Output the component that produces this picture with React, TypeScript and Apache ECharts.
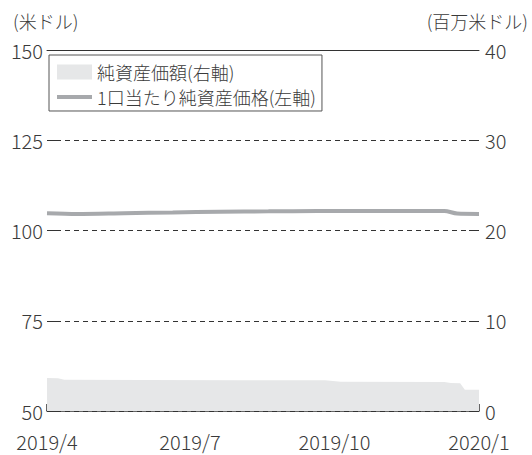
import React, { useEffect, useRef } from "react";
import * as echarts from "echarts";

const tickDates = ["2019-04-01", "2019-07-01", "2019-10-01", "2020-01-01"];
const tickLabels = ["2019/4", "2019/7", "2019/10", "2020/1"];

const navDates = [
  "2019-04-01", "2019-04-08", "2019-04-12", "2019-06-01", "2019-08-01",
  "2019-09-25", "2019-10-05", "2019-12-10", "2019-12-14", "2019-12-20",
  "2019-12-23", "2020-01-01",
];
const navValues = [3.65, 3.62, 3.45, 3.44, 3.42, 3.4, 3.25, 3.22, 3.1, 3.08, 2.35, 2.35];

const priceDates = [
  "2019-04-01", "2019-04-20", "2019-05-20", "2019-06-20", "2019-07-20",
  "2019-08-20", "2019-09-20", "2019-10-20", "2019-11-20", "2019-12-10",
  "2019-12-18", "2020-01-01",
];
const priceValues = [104.8, 104.6, 104.8, 105.0, 105.2, 105.3, 105.4, 105.4, 105.4, 105.4, 104.7, 104.6];

const NAV_NAME = "純資産価額(右軸)";
const PRICE_NAME = "1口当たり純資産価格(左軸)";
const LEFT_UNIT = "(米ドル)";
const RIGHT_UNIT = "(百万米ドル)";

const FONT = "'Noto Sans CJK JP', 'Noto Sans', sans-serif";
const WEIGHT = 300;
const TEXT = "#3a3a3a";
const AXIS = "#333333";

const ts = (d: string) => new Date(d + "T00:00:00Z").getTime();

export default function App() {
  const ref = useRef<HTMLDivElement>(null);
  useEffect(() => {
    if (!ref.current) return;
    const chart = echarts.init(ref.current, undefined, { renderer: "svg" });
    const tickTs = tickDates.map(ts);
    chart.setOption({
      animation: false,
      textStyle: { fontFamily: FONT, fontWeight: WEIGHT },
      grid: { left: 47, right: 53, top: 50, bottom: 44, containLabel: false },
      legend: {
        orient: "vertical",
        left: 49,
        top: 55,
        padding: [8, 6, 5, 8],
        itemGap: 7,
        itemWidth: 35,
        itemHeight: 15,
        borderColor: "#555",
        borderWidth: 1,
        backgroundColor: "#fff",
        textStyle: { fontSize: 18, color: TEXT, fontFamily: FONT, fontWeight: WEIGHT },
        data: [
          { name: NAV_NAME, icon: "rect" },
          { name: PRICE_NAME, icon: "path://M0,0 L35,0 L35,4 L0,4 Z" },
        ],
      },
      graphic: [
        { type: "text", left: 13, top: 12, style: { text: LEFT_UNIT, fontSize: 18, fill: TEXT, fontFamily: FONT, fontWeight: WEIGHT } },
        { type: "text", right: 4, top: 12, style: { text: RIGHT_UNIT, fontSize: 18, fill: TEXT, fontFamily: FONT, fontWeight: WEIGHT } },
      ],
      xAxis: [
        {
          type: "value",
          min: tickTs[0],
          max: tickTs[tickTs.length - 1],
          axisLine: { show: true, lineStyle: { color: AXIS, width: 1.5 } },
          axisTick: { show: true, inside: true, length: 7, customValues: tickTs, lineStyle: { color: AXIS, width: 1.5 } },
          axisLabel: {
            show: true,
            customValues: tickTs,
            fontSize: 20,
            color: TEXT,
            fontFamily: FONT,
            fontWeight: WEIGHT,
            margin: 20,
            hideOverlap: false,
            formatter: (v: number) => {
              const i = tickTs.indexOf(v);
              return i >= 0 ? tickLabels[i] : "";
            },
          },
          splitLine: { show: false },
        },
        {
          type: "value",
          position: "top",
          min: 0,
          max: 1,
          axisLine: { show: true, lineStyle: { color: AXIS, width: 1 } },
          axisTick: { show: false },
          axisLabel: { show: false },
          splitLine: { show: false },
        },
      ],
      yAxis: [
        {
          type: "value",
          min: 50,
          max: 150,
          interval: 25,
          axisLine: { show: false },
          axisTick: { show: true, inside: true, length: 10, lineStyle: { color: AXIS, width: 1 } },
          axisLabel: { fontSize: 20, color: TEXT, fontFamily: FONT, fontWeight: WEIGHT, margin: 4 },
          splitLine: { show: true, lineStyle: { color: AXIS, width: 1, type: [5, 4] } },
        },
        {
          type: "value",
          min: 0,
          max: 40,
          interval: 10,
          position: "right",
          axisLine: { show: false },
          axisTick: { show: true, inside: true, length: 10, lineStyle: { color: AXIS, width: 1 } },
          axisLabel: { fontSize: 20, color: TEXT, fontFamily: FONT, fontWeight: WEIGHT, margin: 6 },
          splitLine: { show: false },
        },
      ],
      series: [
        {
          name: NAV_NAME,
          type: "line",
          xAxisIndex: 0,
          yAxisIndex: 1,
          symbol: "none",
          lineStyle: { width: 0, color: "#e6e7e8" },
          itemStyle: { color: "#e6e7e8" },
          areaStyle: { color: "#e6e7e8", opacity: 1 },
          data: navDates.map((d, i) => [ts(d), navValues[i]]),
          z: 1,
        },
        {
          name: PRICE_NAME,
          type: "line",
          xAxisIndex: 0,
          yAxisIndex: 0,
          symbol: "none",
          smooth: 0.3,
          lineStyle: { width: 4, color: "#a7a9ac" },
          itemStyle: { color: "#a7a9ac" },
          data: priceDates.map((d, i) => [ts(d), priceValues[i]]),
          z: 3,
        },
      ],
    });
    return () => chart.dispose();
  }, []);
  return (
    <div
      ref={ref}
      style={{ position: "fixed", left: 0, top: 0, width: 532, height: 455, background: "#fff" }}
    />
  );
}
